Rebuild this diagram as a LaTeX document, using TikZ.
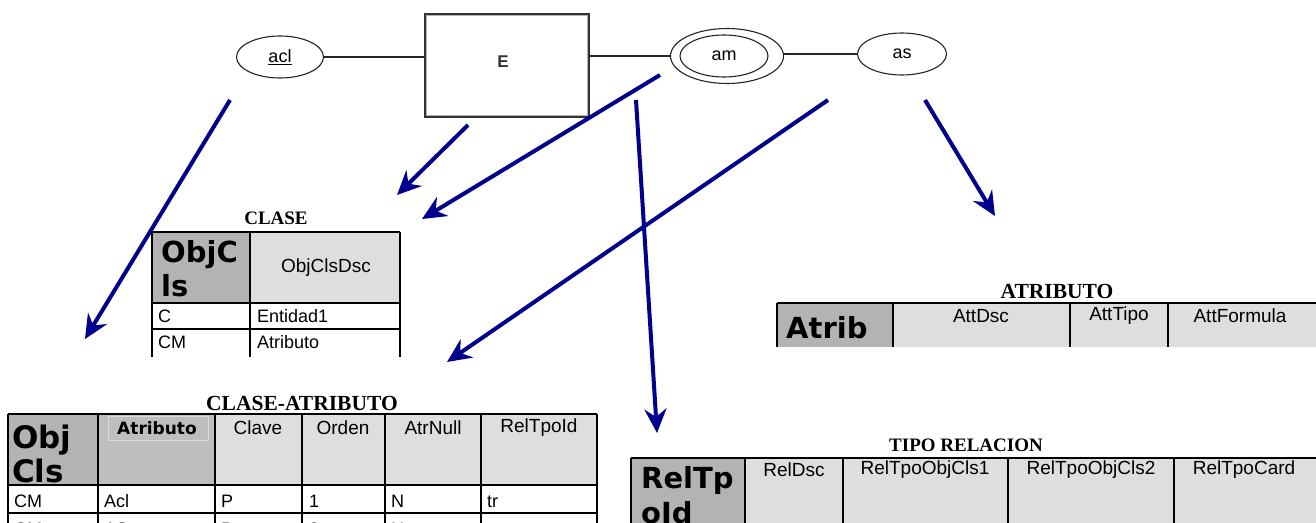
\documentclass[tikz,border=0pt]{standalone}
\usepackage{fontspec}
\setmainfont{Liberation Sans}
\newfontfamily\hdfont{DejaVu Sans}
\newfontfamily\ttlfont{Liberation Serif}
\usetikzlibrary{arrows.meta,shapes.geometric}

\definecolor{hdark}{HTML}{B3B3B3}
\definecolor{hmid}{HTML}{BEBEBE}
\definecolor{hlight}{HTML}{DEDEDE}
\definecolor{arrblue}{HTML}{00008C}

\tikzset{
  erline/.style={line width=1.3pt, black!85},
  attr/.style={ellipse, draw, line width=1.1pt, black!85, inner sep=0pt,
               font=\fontsize{18}{21}\selectfont, text=black},
  entity/.style={rectangle, draw, line width=1.5pt, black!80, inner sep=0pt},
  maparrow/.style={line width=4pt, arrblue,
                   -{Stealth[length=24pt, width=22pt, inset=8pt]}},
  tabtitle/.style={font=\ttlfont\bfseries\fontsize{19}{22}\selectfont, inner sep=0pt},
  keyhdr/.style={font=\hdfont\bfseries\fontsize{29}{33}\selectfont, inner sep=0pt,
                 anchor=base west},
  colhdr/.style={font=\fontsize{19}{22}\selectfont, inner sep=0pt},
  boldhdr/.style={font=\hdfont\bfseries\fontsize{17}{20}\selectfont, inner sep=0pt},
  cell/.style={font=\fontsize{18}{21}\selectfont, inner sep=0pt, anchor=base west},
  grid/.style={line width=2pt, black},
}

\begin{document}
\begin{tikzpicture}[x=1pt, y=-1pt]
\useasboundingbox (0,0) rectangle (1316,522);
\clip (0,0) rectangle (1316,522);
\fill[white] (0,0) rectangle (1316,522);

% ---------- E-R fragment ----------
\node[entity, minimum width=164pt, minimum height=103pt] (E) at (507,65.5) {};
\draw[black!30, line width=0.8pt] ([shift={(2.5pt,2.5pt)}]E.south west) rectangle ([shift={(-2.5pt,-2.5pt)}]E.north east);
\node[font=\bfseries\fontsize{17}{20}\selectfont, text=black!80] (Elbl) at (503,62) {E};
\node[attr, minimum width=87pt, minimum height=42pt] (acl) at (280,57) {\underline{acl}};
\node[attr, minimum width=113pt, minimum height=55pt] (am) at (727,56) {};
\node[attr, minimum width=88pt, minimum height=42pt] (amin) at (724,56) {am};
\node[attr, minimum width=89pt, minimum height=42pt] (as) at (902,54) {as};

\draw[erline] (acl.east) -- (E.west |- acl.east);
\draw[erline] (E.east |- am.west) -- (am.west);
\draw[erline] (am.east |- as.west) -- (as.west);

% ---------- mapping arrows ----------
\coordinate (s1) at (230,100);  \coordinate (t1) at (85,339);
\coordinate (s2) at (468,125);  \coordinate (t2) at (397,195);
\coordinate (s3) at (660,75);   \coordinate (t3) at (422,219);
\coordinate (s4) at (636,100);  \coordinate (t4) at (657,433);
\coordinate (s5) at (828,100);  \coordinate (t5) at (447,362);
\coordinate (s6) at (925,100);  \coordinate (t6) at (995,216);
\foreach \i in {1,...,6} \draw[maparrow] (s\i) -- (t\i);

% ---------- table CLASE ----------
\node[tabtitle] (tclase) at (276,218) {CLASE};
\fill[hdark]  (152,232) rectangle (250,303);
\fill[hlight] (250,232) rectangle (400,303);
\draw[grid] (152,232) -- (400,232) (152,303) -- (400,303) (152,329) -- (400,329);
\draw[grid] (152,232) -- (152,357) (250,232) -- (250,357) (400,232) -- (400,357);
\node[keyhdr] (cl1) at (161,262) {ObjC};
\node[keyhdr] (cl2) at (161,296) {ls};
\node[colhdr] (cl3) at (326,268) {ObjClsDsc};
\node[cell] (cl4) at (158,322) {C};
\node[cell] (cl5) at (257,322) {Entidad1};
\node[cell] (cl6) at (158,348) {CM};
\node[cell] (cl7) at (257,348) {Atributo};

% ---------- table CLASE-ATRIBUTO ----------
\node[tabtitle, font=\ttlfont\bfseries\fontsize{21.5}{24}\selectfont] (tca) at (302,403) {CLASE-ATRIBUTO};
\fill[hdark]  (8,414) rectangle (98,485);
\fill[hmid]   (98,414) rectangle (215,485);
\draw[hmid!55!white, line width=0.6pt] (108,416) rectangle (208,440);
\fill[hlight] (215,414) rectangle (597,485);
\draw[grid] (8,414) -- (597,414) (8,485) -- (597,485) (8,513) -- (597,513);
\foreach \x in {8,98,215,302,385,481,597} \draw[grid] (\x,414) -- (\x,540);
\node[keyhdr, font=\hdfont\bfseries\fontsize{31}{35}\selectfont] (ca1) at (12,448) {Obj};
\node[keyhdr, font=\hdfont\bfseries\fontsize{31}{35}\selectfont] (ca2) at (12,482) {Cls};
\node[boldhdr] (ca3) at (157,428) {Atributo};
\node[colhdr] (ca4) at (258,428) {Clave};
\node[colhdr] (ca5) at (343,428) {Orden};
\node[colhdr] (ca6) at (433,428) {AtrNull};
\node[colhdr] (ca7) at (539,428) {RelTpoId};
\node[cell] (r1a) at (14,507)  {CM};
\node[cell] (r1b) at (104,507) {Acl};
\node[cell] (r1c) at (221,507) {P};
\node[cell] (r1d) at (309,507) {1};
\node[cell] (r1e) at (391,507) {N};
\node[cell] (r1f) at (487,507) {tr};
\node[cell] (r2a) at (14,535)  {CM};
\node[cell] (r2b) at (104,535) {AS};
\node[cell] (r2c) at (221,535) {P};
\node[cell] (r2d) at (309,535) {2};
\node[cell] (r2e) at (391,535) {N};

% ---------- table TIPO RELACION ----------
\node[tabtitle] (ttr) at (966,445) {TIPO RELACION};
\fill[hdark]  (631,458) rectangle (745,540);
\fill[hlight] (745,458) rectangle (1316,540);
\draw[grid] (631,458) -- (1320,458);
\foreach \x in {631,745,843,1008,1174} \draw[grid] (\x,458) -- (\x,540);
\node[keyhdr] (tr1) at (641,488) {RelTp};
\node[keyhdr] (tr2) at (641,523) {oId};
\node[colhdr] (tr3) at (794,470) {RelDsc};
\node[colhdr] (tr4) at (925,470) {RelTpoObjCls1};
\node[colhdr] (tr5) at (1091,470) {RelTpoObjCls2};
\node[colhdr] (tr6) at (1244,470) {RelTpoCard};

% ---------- table ATRIBUTO ----------
\node[tabtitle, font=\ttlfont\bfseries\fontsize{21.5}{24}\selectfont] (tat) at (1057,291) {ATRIBUTO};
\fill[hdark]  (777,303) rectangle (893,347);
\fill[hlight] (893,303) rectangle (1316,347);
\draw[grid] (777,303) -- (1320,303);
\foreach \x in {777,893,1070,1168} \draw[grid] (\x,303) -- (\x,347);
\node[keyhdr] (at1) at (786,338) {Atrib};
\node[colhdr] (at2) at (981,316) {AttDsc};
\node[colhdr] (at3) at (1119,316) {AttTipo};
\node[colhdr] (at4) at (1240,316) {AttFormula};
\end{tikzpicture}
\end{document}
